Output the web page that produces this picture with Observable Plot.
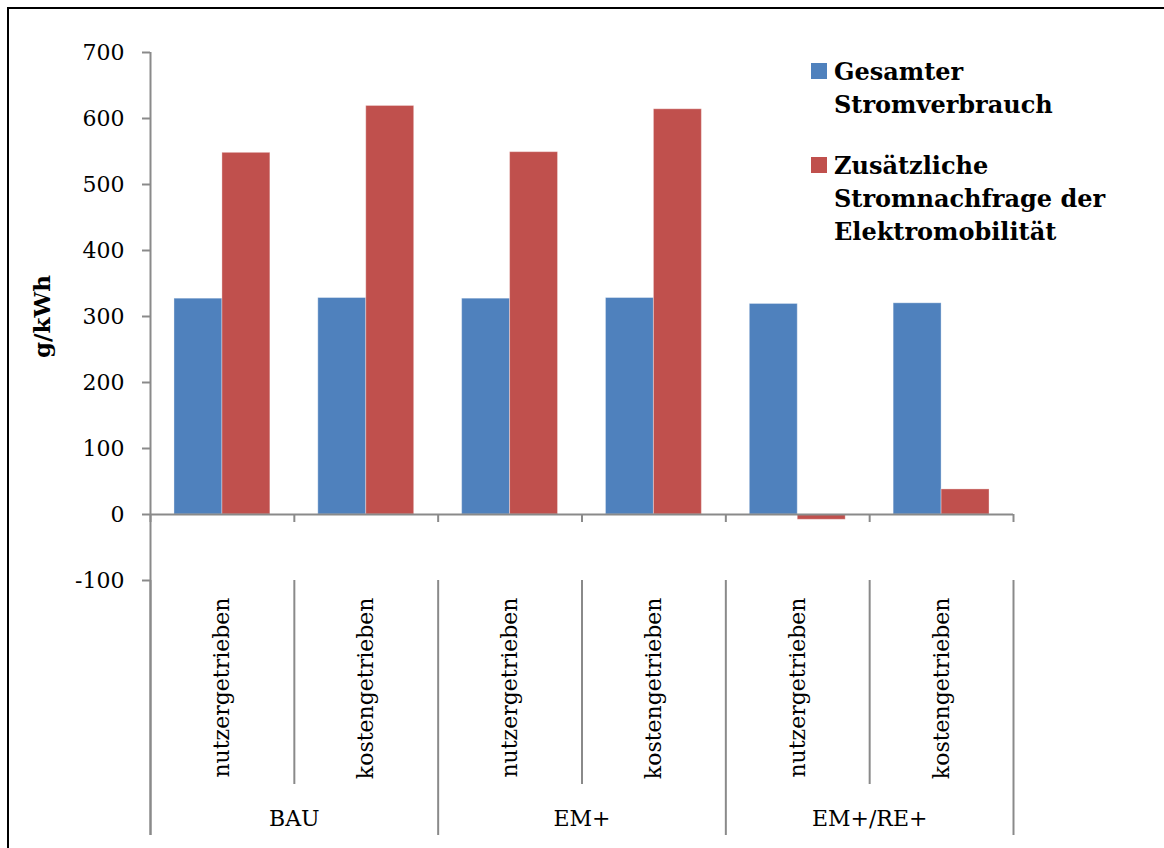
<!DOCTYPE html>
<html>
<head>
<meta charset="utf-8">
<script src="https://cdn.jsdelivr.net/npm/d3@7"></script>
<script src="https://cdn.jsdelivr.net/npm/@observablehq/plot@0.6"></script>
<style>
  html, body { margin: 0; padding: 0; background: #fff; }
  body { width: 1164px; height: 848px; position: relative; overflow: hidden; font-family: "DejaVu Serif", serif; }
  #frame { position: absolute; left: 7px; top: 7px; width: 1200px; height: 900px; border-left: 2px solid #000; border-top: 2px solid #000; }
  #chart { position: absolute; left: 0; top: 0; }
  .legend { position: absolute; left: 811px; font-weight: bold; font-size: 24px; line-height: 33px; color: #000; }
  .legend .sw { position: absolute; left: 0; width: 16px; height: 16px; }
  .legend .tx { position: absolute; left: 23px; white-space: nowrap; }
</style>
</head>
<body>
<div id="frame"></div>
<div id="chart"></div>
<div class="legend" id="leg1" style="top:55px">
  <div class="sw" style="top:8px;background:#4F81BD"></div>
  <div class="tx">Gesamter<br>Stromverbrauch</div>
</div>
<div class="legend" id="leg2" style="top:149px">
  <div class="sw" style="top:8px;background:#C0504D"></div>
  <div class="tx">Zusätzliche<br>Stromnachfrage der<br>Elektromobilität</div>
</div>
<script>
const groups = ["BAU", "EM+", "EM+/RE+"];
const modes = ["nutzergetrieben", "kostengetrieben"];
const gesamterStromverbrauch = [327, 328, 327, 328, 319, 320];
const zusaetzlicheNachfrage = [548, 619, 549, 614, -8, 38];
const yTicks = [-100, 0, 100, 200, 300, 400, 500, 600, 700];
const yLabel = "g/kWh";

const blue = "#4F81BD", red = "#C0504D", axisGray = "#8a8a8a";

const cats = [];
groups.forEach((g, gi) => modes.forEach((m, mi) => cats.push({i: gi * modes.length + mi, group: g, mode: m})));
const bars = [];
cats.forEach(c => {
  bars.push({i: c.i, series: "Gesamter Stromverbrauch", value: gesamterStromverbrauch[c.i], side: 0});
  bars.push({i: c.i, series: "Zusätzliche Stromnachfrage der Elektromobilität", value: zusaetzlicheNachfrage[c.i], side: 1});
});
const boundaries = d3.range(cats.length + 1);
const innerSeps = boundaries.filter(b => b % modes.length !== 0);
const groupSeps = boundaries.filter(b => b % modes.length === 0);
const groupInfo = groups.map((g, gi) => ({group: g, center: gi * modes.length + modes.length / 2}));
const yMin = d3.min(yTicks), yMax = d3.max(yTicks);

const chart = Plot.plot({
  width: 1164,
  height: 848,
  marginLeft: 150,
  marginRight: 151,
  marginTop: 52,
  marginBottom: 13,
  style: {fontFamily: "DejaVu Serif", fontSize: "22px", color: "#000", background: "transparent"},
  x: {type: "linear", domain: [0, cats.length], axis: null},
  y: {domain: [yMin, yMax], range: [580, 52], axis: null},
  marks: [
    Plot.rect(bars, {
      x1: d => d.i + (d.side === 0 ? 1 / 6 : 1 / 2),
      x2: d => d.i + (d.side === 0 ? 1 / 2 : 5 / 6),
      y1: 0,
      y2: "value",
      fill: d => d.side === 0 ? blue : red,
      stroke: "#ffffff",
      strokeOpacity: 0.35,
      strokeWidth: 1
    }),
    Plot.ruleX([0], {stroke: axisGray, strokeWidth: 2}),
    Plot.ruleY(yTicks, {y: d => d, x1: 0, x2: 0, insetLeft: -8, stroke: axisGray, strokeWidth: 2}),
    Plot.text(yTicks, {y: d => d, frameAnchor: "left", dx: -26, textAnchor: "end", text: d => String(d), fontSize: 22, fill: "#000"}),
    Plot.ruleY([0], {stroke: axisGray, strokeWidth: 2}),
    Plot.ruleX(boundaries, {x: d => d, y1: 0, y2: 0, insetBottom: -8, stroke: axisGray, strokeWidth: 2}),
    Plot.ruleX(innerSeps, {x: d => d, y1: yMin, y2: yMin, insetBottom: -204, stroke: axisGray, strokeWidth: 2}),
    Plot.ruleX(groupSeps, {x: d => d, y1: yMin, y2: yMin, insetBottom: -255, stroke: axisGray, strokeWidth: 2}),
    Plot.text(cats, {x: d => d.i + 0.5, y: yMin, dy: 17, text: "mode", rotate: -90, textAnchor: "end", lineAnchor: "middle", fontSize: 22, fill: "#000"}),
    Plot.text(groupInfo, {x: "center", y: yMin, dy: 238, text: "group", textAnchor: "middle", lineAnchor: "middle", fontSize: 22, fill: "#000"}),
    Plot.text([yLabel], {frameAnchor: "left", y: (yMin + yMax) / 2, dx: -108, rotate: -90, text: d => d, fontWeight: "bold", fontSize: 23, textAnchor: "middle", lineAnchor: "middle", fill: "#000"})
  ]
});
document.getElementById("chart").appendChild(chart);
</script>
</body>
</html>
